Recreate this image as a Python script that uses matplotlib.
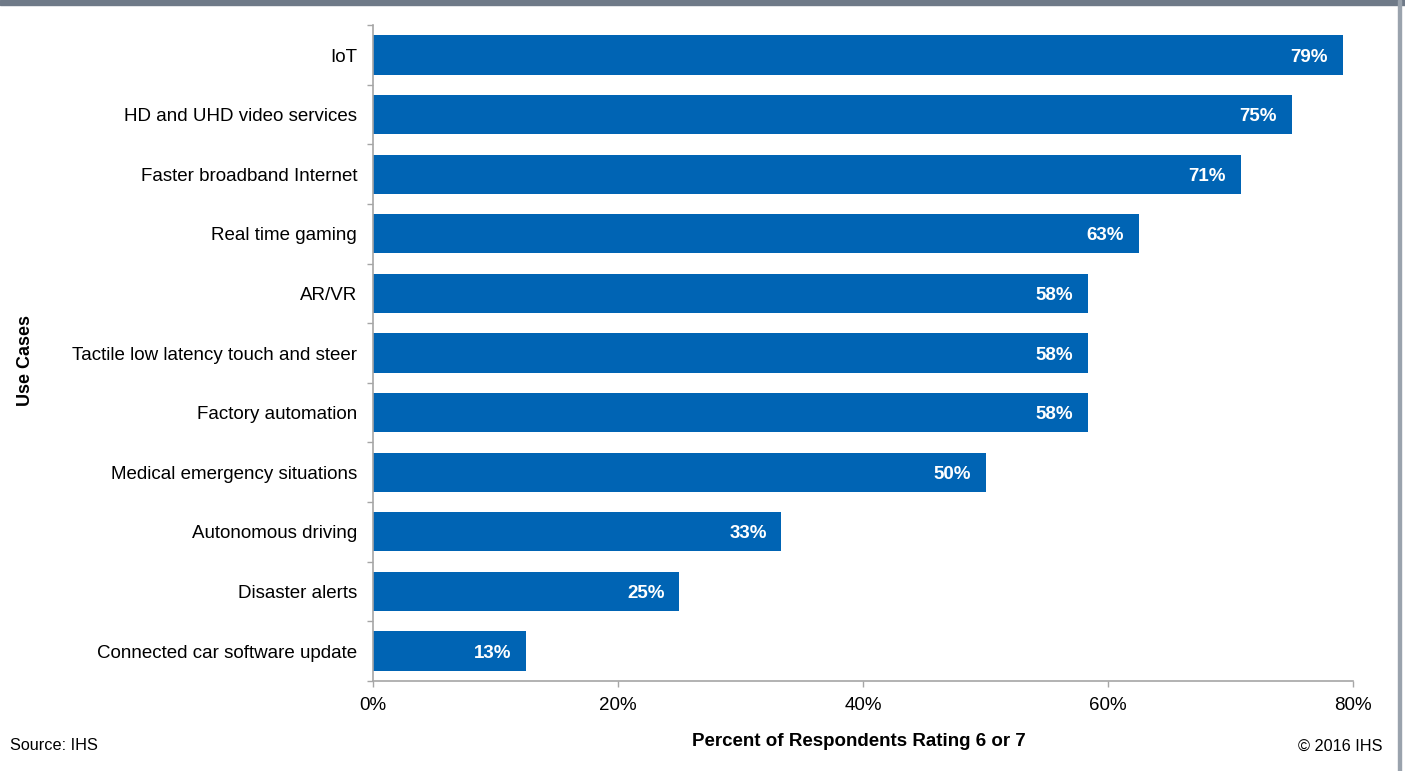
import matplotlib
matplotlib.use("Agg")
import matplotlib.pyplot as plt
from matplotlib.patches import Rectangle
import numpy as np

plt.rcParams['font.family'] = ['Liberation Sans', 'DejaVu Sans']

categories = ["IoT", "HD and UHD video services", "Faster broadband Internet",
              "Real time gaming", "AR/VR", "Tactile low latency touch and steer",
              "Factory automation", "Medical emergency situations",
              "Autonomous driving", "Disaster alerts", "Connected car software update"]
values = [79.17, 75.0, 70.83, 62.5, 58.33, 58.33, 58.33, 50.0, 33.33, 25.0, 12.5]
labels = ["79%", "75%", "71%", "63%", "58%", "58%", "58%", "50%", "33%", "25%", "13%"]
xticks = [0, 20, 40, 60, 80]
xticklabels = ["0%", "20%", "40%", "60%", "80%"]

W, H = 1405, 771
fig = plt.figure(figsize=(W/100, H/100), dpi=100)
ax = fig.add_axes([373/W, 1 - 680.8/H, (1353-373)/W, (680.8-25.2)/H])

bar_color = "#0064b4"
axis_color = "#a6a6a6"
n = len(categories)
y = np.arange(n)
ax.barh(y, values, height=0.66, color=bar_color, zorder=2)
for yi, v, lab in zip(y, values, labels):
    ax.annotate(lab, (v, yi), xytext=(-10.5, 0), textcoords="offset points",
                ha="right", va="center_baseline", color="white", fontweight="bold",
                fontsize=13.5)

ax.set_ylim(n - 0.5, -0.5)
ax.set_xlim(0, 80)
ax.set_yticks(y)
ax.set_yticklabels(categories, fontsize=13.5)
ax.set_yticks(np.arange(n + 1) - 0.5, minor=True)
ax.tick_params(axis="y", which="major", length=0, pad=11.5)
ax.tick_params(axis="y", which="minor", length=4, color=axis_color, width=1)
ax.set_xticks(xticks)
ax.set_xticklabels(xticklabels, fontsize=13.5)
ax.tick_params(axis="x", length=4, color=axis_color, width=1, pad=7.5)

for s in ["top", "right"]:
    ax.spines[s].set_visible(False)
for s in ["left", "bottom"]:
    ax.spines[s].set_color(axis_color)
    ax.spines[s].set_linewidth(1.2)

fig.text(25/W, 1 - 360/H, "Use Cases", rotation=90, ha="center", va="center",
         fontsize=13, fontweight="bold")
fig.text(859/W, 1 - 742/H, "Percent of Respondents Rating 6 or 7", ha="center",
         va="center", fontsize=13.5, fontweight="bold")
fig.text(10/W, 1 - 746/H, "Source: IHS", ha="left", va="center", fontsize=11.7)
fig.text(1382/W, 1 - 746/H, "\u00a9 2016 IHS", ha="right", va="center", fontsize=11.7)

fig.patches.append(Rectangle((0, 1 - 5/H), 1, 5/H, transform=fig.transFigure,
                             color="#6f7a88", zorder=0))
fig.patches.append(Rectangle((1398/W, 0), 3/W, 1, transform=fig.transFigure,
                             color="#9aa3ad", zorder=0))

fig.savefig("out.png", dpi=100)
